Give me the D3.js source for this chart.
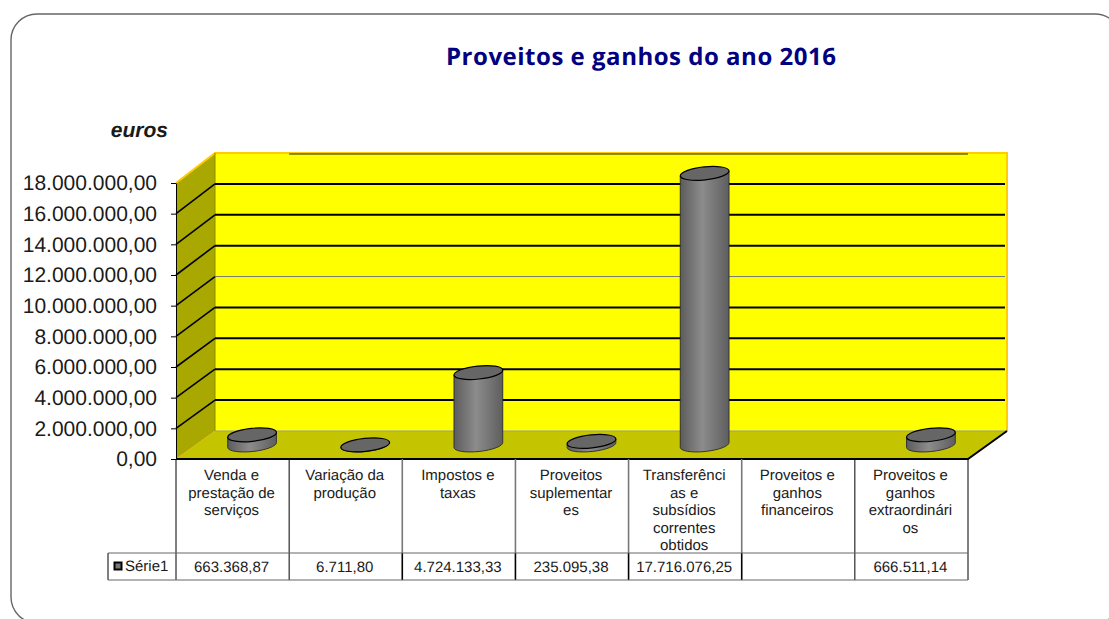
<!DOCTYPE html>
<html>
<head>
<meta charset="utf-8">
<script src="https://cdn.jsdelivr.net/npm/d3@7"></script>
<style>
  html, body {margin: 0; padding: 0; background: #fff; overflow: hidden;}
  svg {display: block;}
  text {font-family: "Liberation Sans", Arial, sans-serif; fill: #1a1a1a; text-rendering: geometricPrecision;}
</style>
</head>
<body>
<svg width="1109" height="619"></svg>
<script>
//values
const categories = ['Venda e prestação', 'Variação', 'Impostos', 'Suplementares', 'Transferências', 'Financeiros', 'Extraordinários'];
const categoryLines = [
  ['Venda e', 'prestação de', 'serviços'],
  ['Variação da', 'produção'],
  ['Impostos e', 'taxas'],
  ['Proveitos', 'suplementar', 'es'],
  ['Transferênci', 'as e', 'subsídios', 'correntes', 'obtidos'],
  ['Proveitos e', 'ganhos', 'financeiros'],
  ['Proveitos e', 'ganhos', 'extraordinári', 'os']
];
const values = [663368.87, 6711.80, 4724133.33, 235095.38, 17716076.25, null, 666511.14];
const yTicks = [0, 2000000, 4000000, 6000000, 8000000, 10000000, 12000000, 14000000, 16000000, 18000000];
const seriesName = 'Série1';

const render = () => {
  const svg = d3.select('svg');

  //number format with dots and comma
  const ptFormat = d3.formatLocale({decimal: ',', thousands: '.', grouping: [3], currency: ['', '']}).format(',.2f');

  //the front plane of the box and the depth of the 3d effect
  const plot = {left: 176, right: 968, top: 183, bottom: 459};
  const depth = {x: 39, y: 28};

  const xScale = d3.scaleBand().domain(categories).range([plot.left, plot.right]);
  const yScale = d3.scaleLinear().domain([0, 18000000]).range([plot.bottom, plot.top]);
  //back wall is a bit taller than the front
  const yBack = d3.scaleLinear().domain([0, 18000000]).range([plot.bottom - depth.y, plot.top - depth.y - 2]);

  //outer frame, runs off the page right and bottom
  svg.append('rect')
    .attr('x', 11).attr('y', 14)
    .attr('width', 1110).attr('height', 609)
    .attr('rx', 26).attr('ry', 26)
    .attr('fill', 'none')
    .attr('stroke', '#666')
    .attr('stroke-width', 1.4);

  //title
  svg.append('text')
    .attr('x', 446).attr('y', 65)
    .attr('textLength', 390)
    .attr('lengthAdjust', 'spacing')
    .style('font-family', '"Comic Sans MS", "Open Sans", sans-serif')
    .style('font-size', '24px')
    .style('font-weight', 'bold')
    .style('fill', '#000080')
    .text('Proveitos e ganhos do ano 2016');

  svg.append('text')
    .attr('x', 168).attr('y', 137)
    .attr('text-anchor', 'end')
    .style('font-size', '21px')
    .style('font-weight', 'bold')
    .style('font-style', 'italic')
    .text('euros');

  //walls and floor
  const backLeft = plot.left + depth.x;
  const backRight = plot.right + depth.x;
  const poly = pts => pts.map(p => p.join(',')).join(' ');

  svg.append('polygon')
    .attr('points', poly([[backLeft, yBack(0)], [backRight, yBack(0)], [backRight, yBack(18000000)], [backLeft, yBack(18000000)]]))
    .attr('fill', '#ffff00');

  svg.append('polygon')
    .attr('points', poly([[plot.left, yScale(0)], [backLeft, yBack(0)], [backLeft, yBack(18000000)], [plot.left, yScale(18000000)]]))
    .attr('fill', '#a8a800');

  svg.append('polygon')
    .attr('points', poly([[plot.left, yScale(0)], [plot.right, yScale(0)], [backRight, yBack(0)], [backLeft, yBack(0)]]))
    .attr('fill', '#c4c400');

  //orange edges
  svg.append('polyline')
    .attr('points', poly([[plot.left, yScale(18000000)], [backLeft, yBack(18000000)], [backRight, yBack(18000000)], [backRight, yBack(0)]]))
    .attr('fill', 'none')
    .attr('stroke', '#ffcc00')
    .attr('stroke-width', 2);

  svg.append('line')
    .attr('x1', plot.left).attr('x2', backLeft)
    .attr('y1', yScale(0)).attr('y2', yBack(0))
    .attr('stroke', '#e0b800')
    .attr('stroke-width', 0.8);

  svg.append('line')
    .attr('x1', backLeft).attr('x2', backLeft)
    .attr('y1', yBack(0)).attr('y2', yBack(18000000))
    .attr('stroke', '#8c8c00');

  svg.append('line')
    .attr('x1', backLeft).attr('x2', backRight)
    .attr('y1', yBack(0)).attr('y2', yBack(0))
    .attr('stroke', '#999');

  //top of the back wall, thin dark line under the orange
  svg.append('line')
    .attr('x1', xScale(categories[1])).attr('x2', plot.right)
    .attr('y1', yBack(18000000) + 1).attr('y2', yBack(18000000) + 1)
    .attr('stroke', '#222')
    .attr('stroke-width', 1);

  //gridlines along left wall and back wall
  const grid = svg.append('g').attr('fill', 'none');
  yTicks.filter(t => t > 0 && t < 18000000).forEach(t => {
    grid.append('line')
      .attr('x1', plot.left).attr('y1', yScale(t))
      .attr('x2', backLeft).attr('y2', yBack(t))
      .attr('stroke', '#000')
      .attr('stroke-width', 1.6);
    grid.append('line')
      .attr('x1', backLeft).attr('y1', yBack(t))
      .attr('x2', backRight - 2).attr('y2', yBack(t))
      .attr('stroke', t === 10000000 ? '#777' : '#000')
      .attr('stroke-width', t === 10000000 ? 1 : 2);
  });

  //floor edges
  svg.append('polyline')
    .attr('points', poly([[plot.left, yScale(0)], [plot.right, yScale(0)], [backRight, yBack(0)]]))
    .attr('fill', 'none')
    .attr('stroke', '#000')
    .attr('stroke-width', 2);

  //y axis
  const yAxis = svg.append('g')
    .attr('transform', `translate(${plot.left}, 0)`)
    .call(d3.axisLeft(yScale).tickValues(yTicks).tickFormat(ptFormat).tickSize(5).tickSizeOuter(0).tickPadding(14));
  yAxis.selectAll('text')
    .style('font-family', '"Liberation Sans", Arial, sans-serif')
    .style('font-size', '21px')
    .style('fill', '#1a1a1a');

  //cylinders
  const defs = svg.append('defs');
  const grad = defs.append('linearGradient').attr('id', 'cyl');
  grad.append('stop').attr('offset', '0%').attr('stop-color', '#5c5c5c');
  grad.append('stop').attr('offset', '45%').attr('stop-color', '#8c8c8c');
  grad.append('stop').attr('offset', '100%').attr('stop-color', '#5e5e5e');

  const rx = 24.5, ry = 6.5, tilt = -6;
  const dx = rx * Math.cos(tilt * Math.PI / 180);
  const dy = -rx * Math.sin(tilt * Math.PI / 180);
  const cx = d => xScale(d.cat) + xScale.bandwidth() / 2 + depth.x / 2;
  const baseY = yScale(0) - depth.y / 2;
  const topY = d => baseY - (yScale(0) - yScale(d.val));

  const data = categories.map((cat, i) => ({cat: cat, val: values[i]})).filter(d => d.val !== null);

  const bars = svg.selectAll('.bar')
    .data(data)
    .enter()
    .append('g')
      .attr('class', 'bar');

  bars.append('path')
    .attr('d', d => `M${cx(d) - dx},${baseY + dy} L${cx(d) - dx},${topY(d) + dy} L${cx(d) + dx},${topY(d) - dy} L${cx(d) + dx},${baseY - dy} A${rx},${ry} ${tilt} 0 1 ${cx(d) - dx},${baseY + dy} Z`)
    .attr('fill', 'url(#cyl)')
    .attr('stroke', '#333')
    .attr('stroke-width', 1);

  bars.append('ellipse')
    .attr('transform', d => `translate(${cx(d)}, ${topY(d)}) rotate(${tilt})`)
    .attr('rx', rx).attr('ry', ry)
    .attr('fill', '#666')
    .attr('stroke', '#000')
    .attr('stroke-width', 1.2);

  //data table under the chart
  const table = {left: 108, rowTop: 553, bottom: 580};
  const tableLines = svg.append('g');

  //middle columns draw grey above the value row and heavy inside it
  categories.forEach((c, i) => {
    const middle = i >= 2 && i <= 5;
    tableLines.append('line')
      .attr('x1', xScale(c)).attr('x2', xScale(c))
      .attr('y1', plot.bottom).attr('y2', table.rowTop)
      .attr('stroke', middle ? '#777' : '#000')
      .attr('stroke-width', middle ? 1.6 : 1);
    tableLines.append('line')
      .attr('x1', xScale(c)).attr('x2', xScale(c))
      .attr('y1', table.rowTop).attr('y2', table.bottom)
      .attr('stroke', '#000')
      .attr('stroke-width', middle ? 1.6 : 1);
  });
  tableLines.append('line')
    .attr('x1', plot.right).attr('x2', plot.right)
    .attr('y1', plot.bottom).attr('y2', table.bottom)
    .attr('stroke', '#000');
  tableLines.append('line')
    .attr('x1', table.left).attr('x2', table.left)
    .attr('y1', table.rowTop).attr('y2', table.bottom)
    .attr('stroke', '#000');
  [table.rowTop, table.bottom].forEach(y => {
    tableLines.append('line')
      .attr('x1', table.left).attr('x2', plot.right)
      .attr('y1', y).attr('y2', y)
      .attr('stroke', '#666')
      .attr('stroke-width', 1);
  });

  //category labels, broken the same way as the picture
  const labels = svg.selectAll('.cat-label')
    .data(categories)
    .enter()
    .append('text')
      .attr('class', 'cat-label')
      .attr('text-anchor', 'middle')
      .style('font-size', '15px');
  labels.each(function(c, i) {
    categoryLines[i].forEach((line, j) => {
      d3.select(this).append('tspan')
        .attr('x', xScale(c) + xScale.bandwidth() / 2 - 1)
        .attr('y', 480 + j * 17.5)
        .text(line);
    });
  });

  //value row
  svg.selectAll('.val-label')
    .data(categories)
    .enter()
    .append('text')
      .attr('class', 'val-label')
      .attr('text-anchor', 'middle')
      .attr('x', c => xScale(c) + xScale.bandwidth() / 2 - 1)
      .attr('y', 572)
      .style('font-size', '15px')
      .text((c, i) => values[i] === null ? '' : ptFormat(values[i]));

  //legend key and name
  svg.append('rect')
    .attr('x', 114.5).attr('y', 562.5)
    .attr('width', 7).attr('height', 7)
    .attr('fill', '#777')
    .attr('stroke', '#000')
    .attr('stroke-width', 2);
  svg.append('text')
    .attr('x', 125).attr('y', 571)
    .style('font-size', '15px')
    .text(seriesName);
}

render();
</script>
</body>
</html>
